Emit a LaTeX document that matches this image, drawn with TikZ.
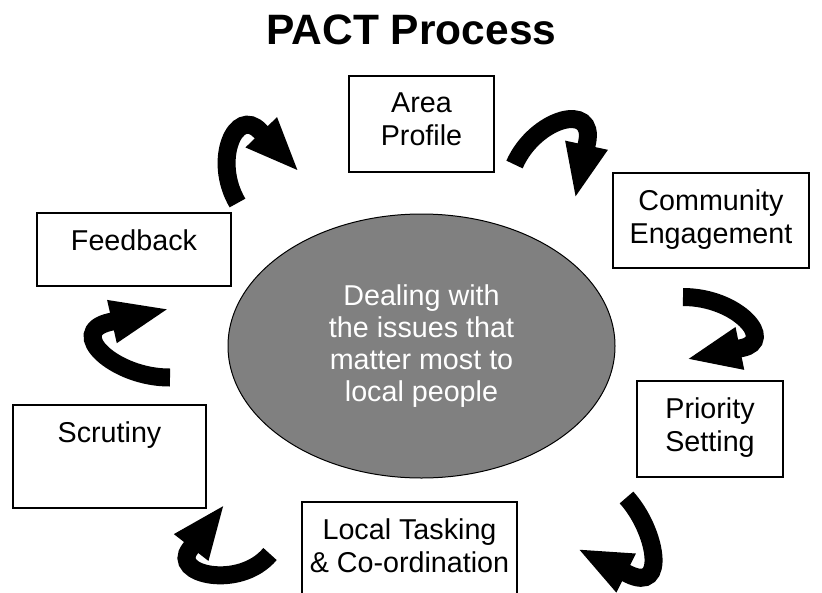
\documentclass[tikz,border=0pt]{standalone}
\usepackage{fontspec}
\setmainfont{Liberation Sans}
\usetikzlibrary{arrows.meta}
\usetikzlibrary{shapes}
\usetikzlibrary{positioning}

\begin{document}
\begin{tikzpicture}[x=1pt, y=-1pt]
            \tikzset{every node/.style={font=\fontsize{28.7}{33.5}\selectfont, align=center, inner sep=0pt},
                    stepbox/.style={draw, line width=1.4pt},
                    >={Triangle[length=55pt, width=39pt]},
                    turn/.style={draw=black, line width=18pt, ->}}
            \clip (0,0) rectangle (822,592);
            \node[font=\fontsize{42.5}{50}\selectfont\bfseries] (title) at (411.5,30) {PACT Process};
            % the centre
            \node[ellipse, draw, line width=1pt, fill=gray, text=white,
                  minimum width=387pt, minimum height=264pt,
                  font=\fontsize{28.7}{32}\selectfont] (0) at (421.5,346)
                  {Dealing with\\the issues that\\matter most to\\local people};
            % the steps, text hangs from the top of each box
            \node[stepbox, minimum width=145pt, minimum height=96pt] (1) at (421.5,124) {};
            \node[below=17pt of 1.north] (1t) {Area\\Profile};
            \node[stepbox, minimum width=196pt, minimum height=95pt] (2) at (711,220.5) {};
            \node[below=17pt of 2.north] (2t) {Community\\Engagement};
            \node[stepbox, minimum width=146pt, minimum height=96pt] (3) at (710,429) {};
            \node[below=17pt of 3.north] (3t) {Priority\\Setting};
            \node[stepbox, minimum width=215pt, minimum height=96pt] (4) at (409.5,550) {};
            \node[below=17pt of 4.north] (4t) {Local Tasking\\\& Co-ordination};
            \node[stepbox, minimum width=193pt, minimum height=103pt] (5) at (109.5,456.5) {};
            \node[below=17pt of 5.north] (5t) {Scrutiny};
            \node[stepbox, minimum width=194pt, minimum height=73pt] (6) at (134,249.5) {};
            \node[below=17pt of 6.north] (6t) {Feedback};
            % turning arrows round the cycle
            \coordinate (a1) at (237.5,203);
            \coordinate (b1) at (260,131);
            \coordinate (c1) at (299.3,172);
            \draw[turn] (a1) .. controls (212,160) and (236,106) .. (b1) -- (c1);
            \coordinate (a2) at (514.5,164.5);
            \coordinate (b2) at (587,143);
            \coordinate (c2) at (575,199);
            \draw[turn] (a2) .. controls (535,118) and (596,101) .. (b2) -- (c2);
            \coordinate (a3) at (683,297);
            \coordinate (b3) at (742,348);
            \coordinate (c3) at (686,359.4);
            \draw[turn] (a3) .. controls (738,297) and (776,341) .. (b3) -- (c3);
            \coordinate (a4) at (626.5,497.5);
            \coordinate (b4) at (628,574);
            \coordinate (c4) at (577,548.5);
            \draw[turn] (a4) .. controls (656,530) and (668,594) .. (b4) -- (c4);
            \coordinate (a5) at (270,554);
            \coordinate (b5) at (190,549);
            \coordinate (c5) at (224.8,504);
            \draw[turn] (a5) .. controls (240,590) and (170,575) .. (b5) -- (c5);
            \coordinate (a6) at (170,377.5);
            \coordinate (b6) at (110,322);
            \coordinate (c6) at (170.5,308.5);
            \draw[turn, -{Triangle[length=60pt, width=39pt]}] (a6) .. controls (115,378) and (65,332) .. (b6) -- (c6);
        \end{tikzpicture}
\end{document}
